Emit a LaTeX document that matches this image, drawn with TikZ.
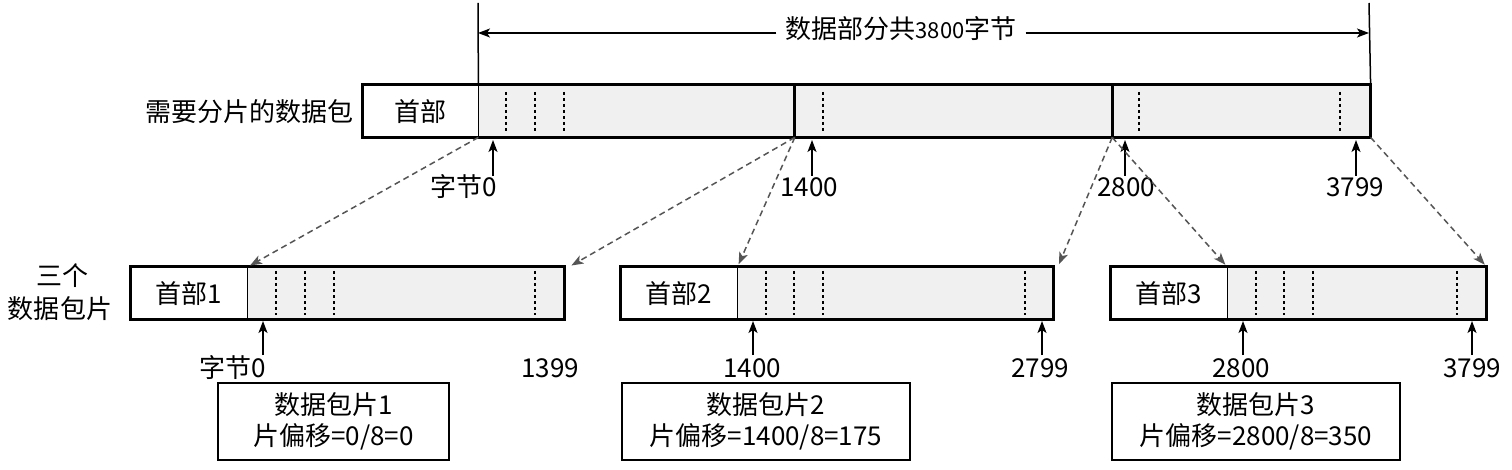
\documentclass[tikz,border=0pt]{standalone}
\usepackage{fontspec}
\setmainfont{Noto Sans CJK SC}
\usetikzlibrary{arrows.meta}
\usetikzlibrary{positioning}
\definecolor{cellgray}{RGB}{240,240,240}
\definecolor{cutgray}{RGB}{85,85,85}

\begin{document}
\begin{tikzpicture}[x=1pt, y=-1pt,
		font=\fontsize{26}{31}\selectfont,
		hd/.style={minimum width=#1, minimum height=52pt, inner sep=0pt, anchor=north west},
		dt/.style={fill=cellgray, minimum width=#1, minimum height=52pt, inner sep=0pt},
		L/.style={draw=#1, line width=1.5pt, dash pattern=on 6pt off 4pt, shorten >=3pt, -{Stealth[length=12pt, width=9pt, inset=3pt]}},
		up/.style={line width=1.5pt, -{Stealth[length=12pt, width=9pt, inset=3pt]}},
		dot/.style={line width=1.3pt, dash pattern=on 3pt off 3pt},
		info/.style={draw, line width=1.5pt, minimum height=77pt, inner sep=0pt, align=center}
		]
		\useasboundingbox (0,0) rectangle (1512,470);
		
		% packet to be fragmented
		\node[hd=116pt] (h0) at (362,85) {首部};
		\node[dt=316pt, right=0pt of h0] (d1) {};
		\node[dt=317pt, right=0pt of d1] (d2) {};
		\node[dt=258pt, right=0pt of d2] (d3) {};
		\draw[line width=3pt] (h0.north west) rectangle (d3.south east);
		\draw[line width=1.5pt] (h0.north east) -- (h0.south east);
		\draw[line width=3pt] (d1.north east) -- (d1.south east);
		\draw[line width=3pt] (d2.north east) -- (d2.south east);
		\foreach \x in {506,535,564,823,1139,1340}{\draw[dot] (\x,92) -- (\x,131);}
		\node[anchor=east] (pkt) at (357,112) {需要分片的数据包};
		
		% data length
		\coordinate (tl) at (478,3);
		\coordinate (tr) at (1369,3);
		\coordinate (dimL) at (478,33);
		\coordinate (dimR) at (1369,33);
		\draw[line width=1.5pt] (h0.north east) -- (tl);
		\draw[line width=1.5pt] (d3.north east) -- (tr);
		\node[inner sep=9pt] (dimtext) at (901,29) {数据部分共{\fontsize{22}{26}\selectfont 3800}字节};
		\draw[up] (dimtext.west |- dimL) -- (dimL);
		\draw[up] (dimtext.east |- dimR) -- (dimR);
		
		% byte marks of the packet
		\foreach \x/\n in {493/a0, 812/a1, 1125/a2, 1356/a3}{\coordinate (\n) at (\x,176);}
		\foreach \n in {a0,a1,a2,a3}{\draw[up] (\n) -- ++(0,-36);}
		\node (ta0) at (464,187) {字节0};
		\node (ta1) at (809,187) {1400};
		\node (ta2) at (1126,187) {2800};
		\node (ta3) at (1355,187) {3799};
		
		% three fragments
		\node[hd=117pt] (f1h) at (130,267) {首部1};
		\node[dt=317pt, right=0pt of f1h] (f1d) {};
		\node[hd=117pt] (f2h) at (620,267) {首部2};
		\node[dt=316pt, right=0pt of f2h] (f2d) {};
		\node[hd=117pt] (f3h) at (1110,267) {首部3};
		\node[dt=259pt, right=0pt of f3h] (f3d) {};
		\foreach \f in {f1,f2,f3}{
			\draw[line width=3pt] (\f h.north west) rectangle (\f d.south east);
			\draw[line width=1.5pt] (\f h.north east) -- (\f h.south east);
		}
		\foreach \x in {276,305,334,535,766,794,823,1025,1256,1284,1313,1457}{\draw[dot] (\x,271) -- (\x,315);}
		\node (three) at (62,276) {三个};
		\node (frags) at (60,309) {数据包片};
		
		% where each fragment comes from
		\draw[L=cutgray] (h0.south east) -- (f1h.north east);
		\draw[L=cutgray] (d1.south east) -- ([xshift=4pt]f1d.north east);
		\draw[L=cutgray] (d1.south east) -- (f2h.north east);
		\draw[L=cutgray] (d2.south east) -- ([xshift=4pt]f2d.north east);
		\draw[L=cutgray] (d2.south east) -- (f3h.north east);
		\draw[L=cutgray] (d3.south east) -- (f3d.north east);
		
		% byte marks of the fragments
		\foreach \x/\n in {263/b1, 753/b2, 1042/b3, 1243/b4, 1472/b5}{\coordinate (\n) at (\x,355);}
		\foreach \n in {b1,b2,b3,b4,b5}{\draw[up] (\n) -- ++(0,-34);}
		\node (tb0) at (233,368) {字节0};
		\node (tb1) at (550,368) {1399};
		\node (tb2) at (752,368) {1400};
		\node (tb3) at (1040,368) {2799};
		\node (tb4) at (1241,368) {2800};
		\node (tb5) at (1472,368) {3799};
		
		% offsets
		\node[info, minimum width=231pt] (i1) at (333.5,421.5) {数据包片1\\片偏移=0/8=0};
		\node[info, minimum width=288pt] (i2) at (766,421.5) {数据包片2\\片偏移=1400/8=175};
		\node[info, minimum width=288pt] (i3) at (1256,421.5) {数据包片3\\片偏移=2800/8=350};
		
	\end{tikzpicture}
\end{document}
